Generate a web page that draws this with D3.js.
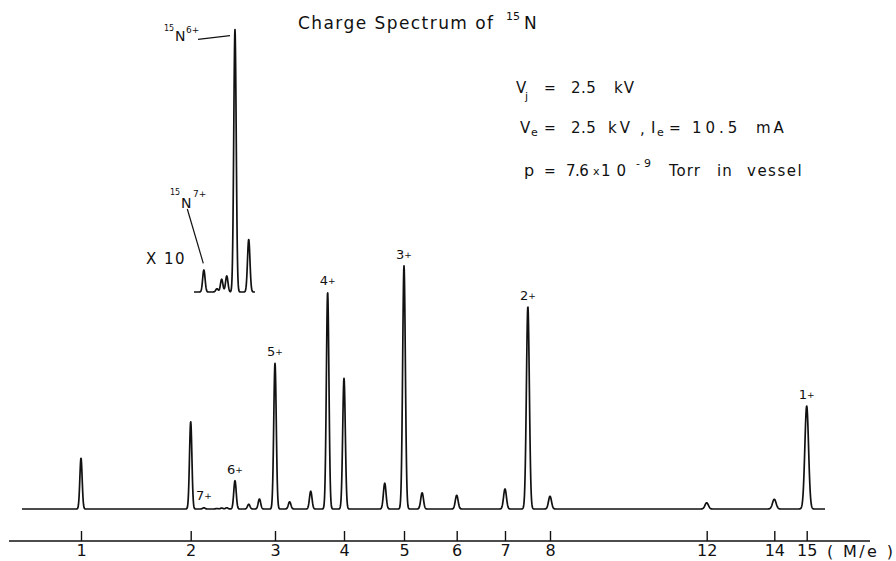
<!DOCTYPE html>
<html><head><meta charset="utf-8">
<script src="https://cdn.jsdelivr.net/npm/d3@7"></script>
<style>
body{margin:0;background:#fff}
svg{display:block}
text{font-family:"DejaVu Sans",sans-serif;fill:#111}
</style>
</head><body>
<svg id="c" width="896" height="561"></svg>
<script>
// ---------------- data ----------------
const tickValues = [1, 2, 3, 4, 5, 6, 7, 8, 12, 14, 15];
const tickLabels = ["1", "2", "3", "4", "5", "6", "7", "8", "12", "14", "15"];
// peaks of the main trace (M/e, intensity in arbitrary units)
const peakMz      = [1, 2, 15/7, 2.29, 2.344, 2.403, 2.5, 8/3, 2.8, 3, 3.2, 3.5, 3.75, 4, 14/3, 5, 16/3, 6, 7, 7.5, 8, 12, 14, 15];
const peakHeights = [20.3, 34.9, 0.5, 0.2, 0.4, 0.5, 11.3, 1.9, 4.0, 58.3, 2.9, 7.1, 86.7, 52.3, 10.3, 97.3, 6.5, 5.5, 8.0, 81.0, 5.1, 2.5, 3.9, 41.2];
// charge-state labels of 15N
const chargeLabels = ["7", "6", "5", "4", "3", "2", "1"];
const chargeMz     = [15/7, 2.5, 3, 3.75, 5, 7.5, 15];
// x10 inset (same units, shown magnified ten times)
const insetMz      = [15/7, 2.29, 2.344, 2.403, 2.5, 8/3];
const insetHeights = [0.88, 0.13, 0.51, 0.64, 10.5, 2.1];
const insetDomain  = [2.035, 2.745];

// ---------------- layout ----------------
const svg = d3.select("#c");
// nonlinear magnet-scan axis: square-root law, calibrated at the tick marks
const axisCalib = [81, 190.7, 275, 344, 404, 456.7, 505, 550, 706.7, 774.3, 806.7];
const x = d3.scalePow().exponent(0.5).domain(tickValues).range(axisCalib);
const y = d3.scaleLinear().domain([0, 100]).range([509, 259]);
const yInset = d3.scaleLinear().domain([0, 10]).range([292, 42]);
const traceRange = [22, 825];
const ink = "#111";

function sigmaFor(mz) { return 1.1 + 0.05 * mz; }

function buildTrace(mzs, hs, x0, x1) {
  const centers = mzs.map(m => x(m));
  const pts = [];
  for (let px = x0; px <= x1 + 1e-9; px += 0.25) {
    let v = 0;
    for (let i = 0; i < mzs.length; i++) {
      const s = sigmaFor(mzs[i]);
      const d = px - centers[i];
      if (Math.abs(d) < 8 * s) v += hs[i] * Math.exp(-d * d / (2 * s * s));
    }
    pts.push([px, v]);
  }
  return pts;
}

// main trace
svg.append("path")
  .datum(buildTrace(peakMz, peakHeights, traceRange[0], traceRange[1]))
  .attr("fill", "none").attr("stroke", ink).attr("stroke-width", 1.7)
  .attr("stroke-linejoin", "round")
  .attr("d", d3.line().x(d => d[0]).y(d => y(d[1])));

// inset trace
svg.append("path")
  .datum(buildTrace(insetMz, insetHeights, x(insetDomain[0]), x(insetDomain[1])))
  .attr("fill", "none").attr("stroke", ink).attr("stroke-width", 1.7)
  .attr("stroke-linejoin", "round")
  .attr("d", d3.line().x(d => d[0]).y(d => yInset(d[1])));

// charge labels
chargeMz.forEach((m, i) => {
  let k = 0, best = 1e9;
  peakMz.forEach((p, j) => { if (Math.abs(p - m) < best) { best = Math.abs(p - m); k = j; } });
  const ly = Math.min(y(peakHeights[k]) - 7, y(0) - 9);
  const t = svg.append("text")
    .attr("x", x(m)).attr("y", ly)
    .attr("text-anchor", "middle")
    .attr("font-size", 13);
  t.append("tspan").text(chargeLabels[i]);
  t.append("tspan").attr("font-size", 9).attr("dy", -1).text("+");
});

// axis
const axisY = 541;
svg.append("line")
  .attr("x1", 9).attr("x2", 870).attr("y1", axisY).attr("y2", axisY)
  .attr("stroke", ink).attr("stroke-width", 1.4);
const gAxis = svg.append("g").attr("transform", `translate(0,${axisY})`)
  .call(d3.axisBottom(x).tickValues(tickValues)
    .tickFormat((d, i) => tickLabels[i])
    .tickSizeInner(-10).tickSizeOuter(0).tickPadding(4));
gAxis.select(".domain").remove();
gAxis.selectAll(".tick line").attr("stroke", ink).attr("stroke-width", 1.4);
gAxis.selectAll(".tick text")
  .attr("font-family", "DejaVu Sans, sans-serif")
  .attr("font-size", 16).attr("fill", ink);
svg.append("text").attr("x", 827).attr("y", 557)
  .attr("font-size", 16).attr("textLength", 66).attr("lengthAdjust", "spacing")
  .text("( M/e )");

// title
svg.append("text").attr("x", 298).attr("y", 29)
  .attr("font-size", 17).attr("textLength", 195).attr("lengthAdjust", "spacing")
  .text("Charge Spectrum of");
svg.append("text").attr("x", 506).attr("y", 20).attr("font-size", 11).text("15");
svg.append("text").attr("x", 524).attr("y", 29).attr("font-size", 17).text("N");

// text helper
function piece(xp, yp, str, fs, ls) {
  return svg.append("text").attr("x", xp).attr("y", yp)
    .attr("font-size", fs).attr("letter-spacing", ls || 0).text(str);
}
// line 1
piece(516, 92.5, "V", 15);
piece(525, 100, "j", 11);
piece(544, 92.5, "=", 14);
piece(571, 92.5, "2.5", 15, 0.5);
piece(614, 92.5, "kV", 15, 1);
// line 2
piece(520, 133, "V", 15);
piece(531, 136, "e", 11);
piece(544, 133, "=", 14);
piece(571, 133, "2.5", 15, 0.5);
piece(608, 133, "kV", 15, 3);
piece(640, 134, ",", 15);
piece(651, 133, "I", 15);
piece(657, 136, "e", 11);
piece(669, 133, "=", 14);
piece(692, 133, "10.5", 15, 4);
piece(756, 133, "mA", 15, 3);
// line 3
piece(524, 176, "p", 16);
piece(544, 176, "=", 14);
piece(566, 176, "7.6", 15, -0.5);
piece(593, 175, "x", 11);
piece(601, 176, "10", 15, 6);
piece(636, 167, "-9", 11, 4);
piece(669, 176, "Torr", 15, 1);
piece(717, 176, "in", 15, 1);
piece(747, 176, "vessel", 15, 1.5);

// inset labels
piece(164, 31, "15", 8);
piece(175, 41, "N", 14);
piece(186, 33, "6+", 9);
svg.append("line").attr("x1", 198).attr("y1", 39.3).attr("x2", 230).attr("y2", 35.7)
  .attr("stroke", ink).attr("stroke-width", 1.2);
piece(170, 195, "15", 8);
piece(181, 208, "N", 14);
piece(193, 197, "7+", 9);
svg.append("line").attr("x1", 187.3).attr("y1", 209).attr("x2", 203.3).attr("y2", 263.3)
  .attr("stroke", ink).attr("stroke-width", 1.2);
piece(146, 264, "X 10", 15, 1.5);
</script>
</body></html>
